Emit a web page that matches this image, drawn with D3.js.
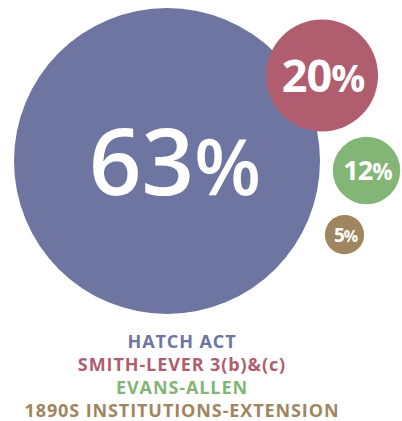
<!DOCTYPE html>
<html>
<head>
<meta charset="utf-8">
<script src="https://cdn.jsdelivr.net/npm/d3@7/dist/d3.min.js"></script>
<style>
  body { margin: 0; background: #fff; }
  svg { display: block; }
</style>
</head>
<body>
<div class="chart"></div>
<script>
// program names and their share of funding (%)
var programs = ["HATCH ACT", "SMITH-LEVER 3(b)&(c)", "EVANS-ALLEN", "1890S INSTITUTIONS-EXTENSION"];
var shares = [63, 20, 12, 5];

var palette = ["#6d75a0", "#b05d70", "#83b576", "#a0865f"];

var svgW = 402;
var svgH = 421;

// bubble placement (layout only)
var centerX = [167, 322, 366.5, 344.5];
var centerY = [161, 75.5, 170.5, 234.7];

var svg = d3.select(".chart")
    .append("svg")
    .attr("width", svgW)
    .attr("height", svgH);

// radius and label size follow the share
var rScale = d3.scaleLinear().domain([5, 12, 20, 63]).range([19.6, 33.7, 56, 153]);
var fScale = d3.scaleLinear().domain([5, 12, 20, 63]).range([19, 27, 45, 92]);

var data = shares.map(function(d, i) {
    return {name: programs[i], share: d, color: palette[i], x: centerX[i], y: centerY[i]};
});

svg.selectAll("circle")
    .data(data)
    .enter().append("circle")
    .attr("cx", function(d) { return d.x; })
    .attr("cy", function(d) { return d.y; })
    .attr("r", function(d) { return rScale(d.share); })
    .style("fill", function(d) { return d.color; });

var labels = svg.selectAll("text.value")
    .data(data)
    .enter().append("text")
    .attr("class", "value")
    .attr("x", function(d, i) { return d.x + (i == 0 ? 8 : 1); })
    .attr("y", function(d) { return d.y + fScale(d.share) * 0.37; })
    .attr("text-anchor", "middle")
    .style("font-family", "'Open Sans', sans-serif")
    .style("font-weight", function(d, i) { return i == 0 ? 600 : 700; })
    .style("font-size", function(d) { return fScale(d.share) + "px"; })
    .style("letter-spacing", function(d, i) { return i == 0 ? "0px" : "-1px"; })
    .style("fill", "#fff");

labels.append("tspan").text(function(d) { return d.share; });
labels.append("tspan")
    .style("font-size", "0.84em")
    .text("%");

// legend
svg.selectAll("text.legend")
    .data(data)
    .enter().append("text")
    .attr("class", "legend")
    .attr("x", 182)
    .attr("y", function(d, i) { return 347.5 + i * 23; })
    .attr("text-anchor", "middle")
    .style("font-family", "'Open Sans', sans-serif")
    .style("font-weight", 700)
    .style("font-size", "18px")
    .style("letter-spacing", "0.9px")
    .style("fill", function(d) { return d.color; })
    .text(function(d) { return d.name; });
</script>
</body>
</html>
